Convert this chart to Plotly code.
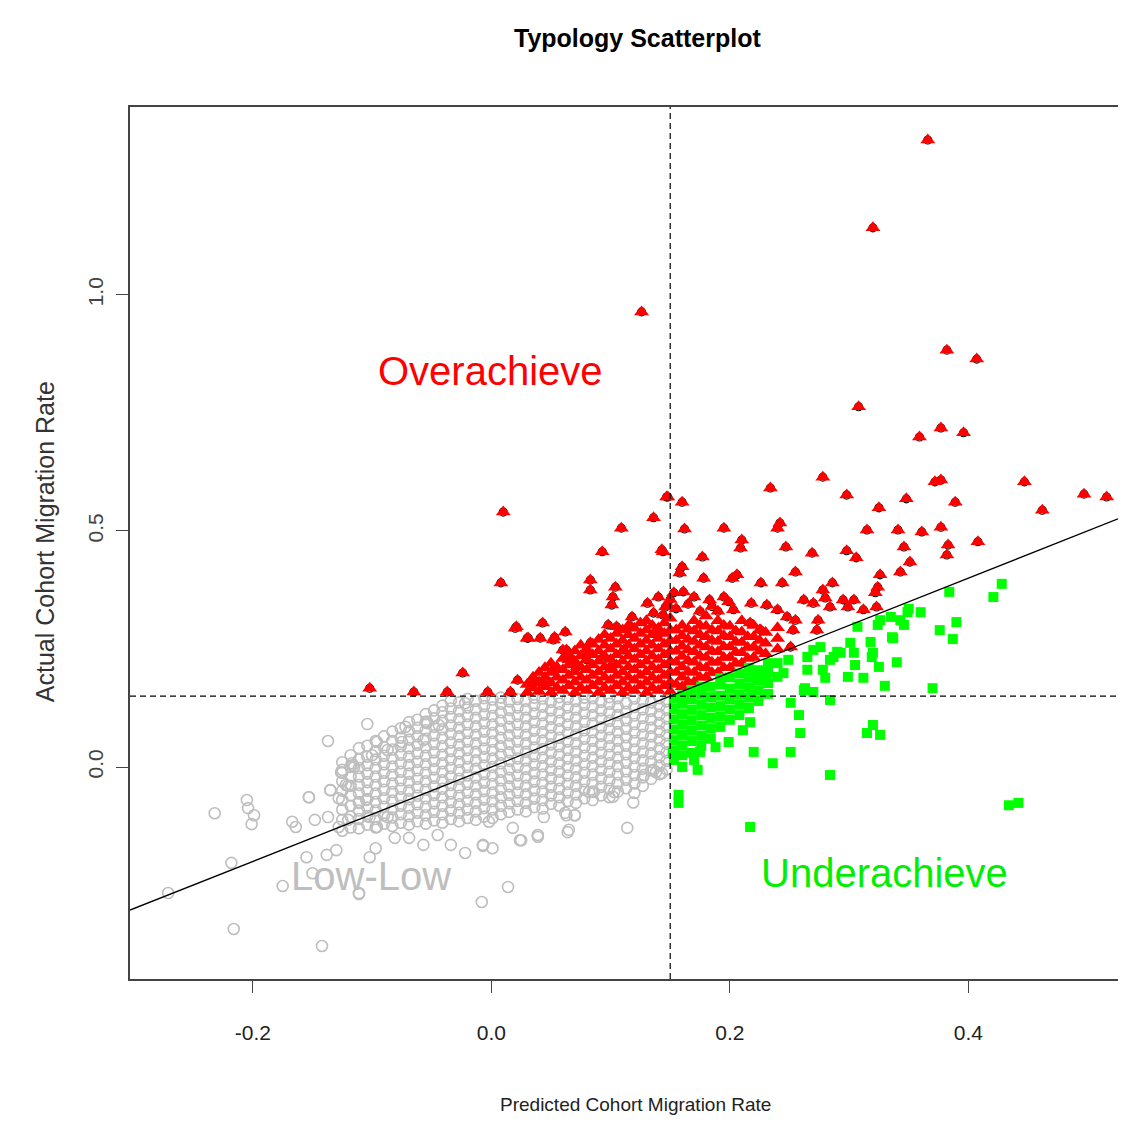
import plotly.graph_objects as go

# ---------------- data ----------------
X_RANGE = [-0.303, 0.5255]
Y_RANGE = [-0.449, 1.398]
X_TICKS = [-0.2, 0.0, 0.2, 0.4]
X_TICKTEXT = ["-0.2", "0.0", "0.2", "0.4"]
Y_TICKS = [0.0, 0.5, 1.0]
Y_TICKTEXT = ["0.0", "0.5", "1.0"]
THRESH_X = 0.15
THRESH_Y = 0.15
LINE_INTERCEPT = 0.0
LINE_SLOPE = 1.0

# Low-Low (grey) dense band: columns of (predicted, [actual values])
GREY_BAND = [
    (-0.125, [-0.135, -0.112, -0.09, -0.07, -0.05, -0.03, -0.012, 0.01]),
    (-0.118, [-0.128, -0.105, -0.082, -0.06, -0.04, -0.02, 0.0, 0.025]),
    (-0.111, [-0.13, -0.11, -0.092, -0.074, -0.056, -0.038, -0.02, -0.002, 0.016, 0.04]),
    (-0.104, [-0.122, -0.104, -0.086, -0.068, -0.05, -0.032, -0.014, 0.004, 0.022, 0.045]),
    (-0.097, [-0.128, -0.11, -0.092, -0.074, -0.056, -0.038, -0.02, -0.002, 0.016, 0.034, 0.055]),
    (-0.090, [-0.12, -0.102, -0.084, -0.066, -0.048, -0.03, -0.012, 0.006, 0.024, 0.042, 0.065]),
    (-0.083, [-0.125, -0.107, -0.089, -0.071, -0.053, -0.035, -0.017, 0.001, 0.019, 0.037, 0.055, 0.075]),
    (-0.076, [-0.118, -0.1, -0.082, -0.064, -0.046, -0.028, -0.01, 0.008, 0.026, 0.044, 0.062, 0.082]),
    (-0.069, [-0.122, -0.104, -0.086, -0.068, -0.05, -0.032, -0.014, 0.004, 0.022, 0.04, 0.058, 0.076, 0.095]),
    (-0.062, [-0.115, -0.097, -0.079, -0.061, -0.043, -0.025, -0.007, 0.011, 0.029, 0.047, 0.065, 0.083, 0.1]),
    (-0.055, [-0.12, -0.102, -0.084, -0.066, -0.048, -0.03, -0.012, 0.006, 0.024, 0.042, 0.06, 0.078, 0.096, 0.112]),
    (-0.048, [-0.113, -0.095, -0.077, -0.059, -0.041, -0.023, -0.005, 0.013, 0.031, 0.049, 0.067, 0.085, 0.103, 0.12]),
    (-0.041, [-0.118, -0.1, -0.082, -0.064, -0.046, -0.028, -0.01, 0.008, 0.026, 0.044, 0.062, 0.08, 0.098, 0.116, 0.13]),
    (-0.034, [-0.11, -0.092, -0.074, -0.056, -0.038, -0.02, -0.002, 0.016, 0.034, 0.052, 0.07, 0.088, 0.106, 0.124, 0.14]),
    (-0.027, [-0.115, -0.097, -0.079, -0.061, -0.043, -0.025, -0.007, 0.011, 0.029, 0.047, 0.065, 0.083, 0.101, 0.119, 0.137]),
    (-0.020, [-0.108, -0.09, -0.072, -0.054, -0.036, -0.018, 0.0, 0.018, 0.036, 0.054, 0.072, 0.09, 0.108, 0.126, 0.144]),
    (-0.013, [-0.112, -0.094, -0.076, -0.058, -0.04, -0.022, -0.004, 0.014, 0.032, 0.05, 0.068, 0.086, 0.104, 0.122, 0.14]),
    (-0.006, [-0.105, -0.087, -0.069, -0.051, -0.033, -0.015, 0.003, 0.021, 0.039, 0.057, 0.075, 0.093, 0.111, 0.129, 0.146]),
    (0.001, [-0.108, -0.09, -0.072, -0.054, -0.036, -0.018, 0.0, 0.018, 0.036, 0.054, 0.072, 0.09, 0.108, 0.126, 0.143]),
    (0.008, [-0.1, -0.082, -0.064, -0.046, -0.028, -0.01, 0.008, 0.026, 0.044, 0.062, 0.08, 0.098, 0.116, 0.134, 0.147]),
    (0.015, [-0.095, -0.077, -0.059, -0.041, -0.023, -0.005, 0.013, 0.031, 0.049, 0.067, 0.085, 0.103, 0.121, 0.139]),
    (0.022, [-0.09, -0.072, -0.054, -0.036, -0.018, 0.0, 0.018, 0.036, 0.054, 0.072, 0.09, 0.108, 0.126, 0.144]),
    (0.029, [-0.094, -0.076, -0.058, -0.04, -0.022, -0.004, 0.014, 0.032, 0.05, 0.068, 0.086, 0.104, 0.122, 0.14]),
    (0.036, [-0.085, -0.067, -0.049, -0.031, -0.013, 0.005, 0.023, 0.041, 0.059, 0.077, 0.095, 0.113, 0.131, 0.147]),
    (0.043, [-0.088, -0.07, -0.052, -0.034, -0.016, 0.002, 0.02, 0.038, 0.056, 0.074, 0.092, 0.11, 0.128, 0.145]),
    (0.050, [-0.078, -0.06, -0.042, -0.024, -0.006, 0.012, 0.03, 0.048, 0.066, 0.084, 0.102, 0.12, 0.138]),
    (0.057, [-0.082, -0.064, -0.046, -0.028, -0.01, 0.008, 0.026, 0.044, 0.062, 0.08, 0.098, 0.116, 0.134, 0.148]),
    (0.064, [-0.072, -0.054, -0.036, -0.018, 0.0, 0.018, 0.036, 0.054, 0.072, 0.09, 0.108, 0.126, 0.144]),
    (0.071, [-0.076, -0.058, -0.04, -0.022, -0.004, 0.014, 0.032, 0.05, 0.068, 0.086, 0.104, 0.122, 0.14]),
    (0.078, [-0.066, -0.048, -0.03, -0.012, 0.006, 0.024, 0.042, 0.06, 0.078, 0.096, 0.114, 0.132, 0.147]),
    (0.085, [-0.07, -0.052, -0.034, -0.016, 0.002, 0.02, 0.038, 0.056, 0.074, 0.092, 0.11, 0.128, 0.146]),
    (0.092, [-0.06, -0.042, -0.024, -0.006, 0.012, 0.03, 0.048, 0.066, 0.084, 0.102, 0.12, 0.138]),
    (0.099, [-0.064, -0.046, -0.028, -0.01, 0.008, 0.026, 0.044, 0.062, 0.08, 0.098, 0.116, 0.134, 0.148]),
    (0.106, [-0.052, -0.034, -0.016, 0.002, 0.02, 0.038, 0.056, 0.074, 0.092, 0.11, 0.128, 0.146]),
    (0.113, [-0.045, -0.027, -0.009, 0.009, 0.027, 0.045, 0.063, 0.081, 0.099, 0.117, 0.135]),
    (0.120, [-0.035, -0.017, 0.001, 0.019, 0.037, 0.055, 0.073, 0.091, 0.109, 0.127, 0.145]),
    (0.127, [-0.04, -0.022, -0.004, 0.014, 0.032, 0.05, 0.068, 0.086, 0.104, 0.122, 0.14]),
    (0.134, [-0.025, -0.007, 0.011, 0.029, 0.047, 0.065, 0.083, 0.101, 0.119, 0.137]),
    (0.141, [-0.015, 0.003, 0.021, 0.039, 0.057, 0.075, 0.093, 0.111, 0.129, 0.146]),
    (0.147, [-0.005, 0.013, 0.031, 0.049, 0.067, 0.085, 0.103, 0.121, 0.139]),
]
# Low-Low scattered points
GREY_X = [-0.232, -0.205, -0.204, -0.199, -0.201, -0.271, -0.218, -0.216, -0.142, -0.175,
          -0.167, -0.164, -0.148, -0.153, -0.155, -0.138, -0.130, -0.150, -0.111, -0.126,
          -0.116, -0.122, -0.135, -0.137, -0.128, -0.120, -0.102, -0.097, -0.008, 0.014,
          0.114, 0.065, 0.039, 0.025, 0.001, -0.007, -0.022, -0.034, -0.057, -0.045,
          0.018, 0.044, 0.070, 0.063, 0.082, 0.103, 0.120, 0.138, 0.143, -0.002,
          -0.069, -0.081, -0.096, -0.087, -0.102, -0.111, -0.105, -0.137, -0.104, -0.072,
          -0.096, -0.075, -0.125, -0.117, -0.115, -0.120, -0.135, -0.153, -0.128, -0.100,
          -0.087, -0.054, -0.057, -0.111, -0.054, -0.044, -0.022, -0.007, 0.024, 0.039,
          0.064, 0.062, 0.070, 0.086, 0.102, 0.119, 0.128, 0.136]
GREY_Y = [-0.098, -0.070, -0.087, -0.102, -0.121, -0.267, -0.203, -0.343, -0.379, -0.252,
          -0.116, -0.127, -0.112, -0.064, -0.191, -0.186, -0.176, -0.225, -0.269, -0.011,
          0.004, -0.038, -0.049, -0.106, -0.127, -0.112, -0.191, -0.172, -0.286, -0.254,
          -0.129, -0.133, -0.148, -0.155, -0.172, -0.167, -0.182, -0.165, -0.165, -0.144,
          -0.129, -0.106, -0.102, -0.102, -0.053, -0.053, -0.055, -0.011, -0.013, -0.116,
          -0.150, -0.150, -0.127, -0.106, -0.106, -0.076, -0.070, 0.055, 0.091, 0.085,
          0.053, 0.053, -0.006, 0.008, 0.000, -0.040, -0.049, -0.064, -0.066, 0.025,
          0.036, 0.093, 0.057, -0.267, 0.096, 0.089, 0.135, -0.165, -0.155, -0.144,
          -0.138, -0.097, -0.102, -0.053, -0.063, -0.075, -0.017, -0.006]

# Overachieve (red) dense cluster columns
RED_BAND = [
    (0.030, [0.158, 0.175]),
    (0.035, [0.168, 0.190]),
    (0.040, [0.160, 0.180, 0.200]),
    (0.045, [0.170, 0.190, 0.210]),
    (0.050, [0.158, 0.178, 0.200, 0.220]),
    (0.055, [0.168, 0.190, 0.212]),
    (0.060, [0.162, 0.184, 0.206, 0.230]),
    (0.065, [0.172, 0.194, 0.216, 0.238]),
    (0.070, [0.158, 0.180, 0.202, 0.224, 0.246]),
    (0.075, [0.168, 0.190, 0.212, 0.235, 0.258]),
    (0.080, [0.162, 0.184, 0.206, 0.228, 0.250]),
    (0.085, [0.172, 0.194, 0.216, 0.238, 0.260]),
    (0.090, [0.158, 0.180, 0.202, 0.224, 0.246, 0.270]),
    (0.095, [0.168, 0.190, 0.212, 0.235, 0.258, 0.280]),
    (0.100, [0.162, 0.184, 0.206, 0.228, 0.250, 0.272]),
    (0.105, [0.172, 0.194, 0.216, 0.238, 0.260, 0.283]),
    (0.110, [0.158, 0.180, 0.202, 0.224, 0.246, 0.268, 0.290]),
    (0.115, [0.168, 0.190, 0.212, 0.235, 0.258, 0.280, 0.300]),
    (0.120, [0.162, 0.184, 0.206, 0.228, 0.250, 0.272, 0.294]),
    (0.125, [0.172, 0.194, 0.216, 0.238, 0.260, 0.283, 0.305]),
    (0.130, [0.158, 0.180, 0.202, 0.224, 0.246, 0.268, 0.290, 0.310]),
    (0.135, [0.168, 0.190, 0.212, 0.235, 0.258, 0.280, 0.300]),
    (0.140, [0.162, 0.184, 0.206, 0.228, 0.250, 0.272, 0.294]),
    (0.145, [0.172, 0.194, 0.216, 0.238, 0.260, 0.283, 0.305]),
    (0.150, [0.160, 0.180, 0.202, 0.224, 0.246, 0.268, 0.290, 0.315]),
    (0.155, [0.175, 0.200, 0.222, 0.245, 0.268, 0.290]),
    (0.160, [0.170, 0.190, 0.212, 0.234, 0.256, 0.278, 0.300]),
    (0.165, [0.180, 0.202, 0.225, 0.248, 0.270, 0.292]),
    (0.170, [0.180, 0.200, 0.222, 0.244, 0.266, 0.288, 0.310]),
    (0.175, [0.190, 0.212, 0.235, 0.258, 0.280, 0.300]),
    (0.180, [0.190, 0.210, 0.232, 0.254, 0.276, 0.298, 0.320]),
    (0.185, [0.200, 0.222, 0.245, 0.268, 0.290]),
    (0.190, [0.200, 0.222, 0.244, 0.266, 0.288, 0.310]),
    (0.195, [0.210, 0.232, 0.255, 0.278, 0.300]),
    (0.200, [0.210, 0.232, 0.254, 0.276, 0.298]),
    (0.205, [0.220, 0.243, 0.265, 0.288]),
    (0.210, [0.220, 0.242, 0.264, 0.286, 0.310]),
    (0.215, [0.230, 0.253, 0.276]),
    (0.220, [0.232, 0.254, 0.276, 0.300]),
    (0.225, [0.245, 0.268, 0.290]),
    (0.230, [0.240, 0.262, 0.285]),
    (0.240, [0.250, 0.272, 0.295]),
]
RED_X = [0.366, 0.320, 0.126, 0.382, 0.407, 0.308, 0.359, 0.377, 0.396, 0.278,
         0.234, 0.372, 0.377, 0.447, 0.497, 0.516, 0.462, 0.148, 0.160, 0.298,
         0.348, 0.389, 0.325, 0.162, 0.195, 0.242, 0.240, 0.315, 0.341, 0.361,
         0.377, 0.408, 0.383, 0.382, 0.346, 0.351, 0.343, 0.210, 0.209, 0.247,
         0.269, 0.298, 0.306, 0.177, 0.144, 0.160, 0.158, 0.178, 0.202, 0.206,
         0.255, 0.226, 0.244, 0.286, 0.278, 0.326, 0.324, 0.322, 0.153, 0.161,
         0.183, 0.195, 0.199, 0.218, 0.231, 0.262, 0.270, 0.280, 0.284, 0.295,
         0.304, 0.299, 0.312, 0.323, 0.146, 0.240, 0.248, 0.255, 0.253, 0.274,
         0.273, 0.203, 0.217, 0.226, 0.251,
         0.010, 0.008, 0.109, 0.136, 0.147, 0.143, 0.093, 0.083, 0.083, 0.104,
         0.102, 0.101, 0.021, 0.043, 0.041, 0.031, 0.053, 0.062, 0.063, 0.065,
         0.098, 0.105, 0.118, 0.117, 0.131, 0.136, 0.144, 0.148, 0.141, 0.083,
         0.080, -0.102, -0.065, -0.037, -0.024, -0.003, 0.016, 0.022, 0.020, 0.030,
         0.052, 0.060, 0.081, 0.111, 0.094, 0.100, 0.072, 0.052, 0.044, 0.035,
         0.155, 0.165, 0.175, 0.185, 0.170, 0.190, 0.150, 0.140]
RED_Y = [1.328, 1.142, 0.964, 0.883, 0.864, 0.763, 0.699, 0.718, 0.708, 0.614,
         0.591, 0.604, 0.608, 0.604, 0.578, 0.572, 0.544, 0.572, 0.561, 0.576,
         0.568, 0.561, 0.549, 0.504, 0.506, 0.517, 0.506, 0.502, 0.502, 0.498,
         0.508, 0.477, 0.470, 0.449, 0.466, 0.434, 0.413, 0.481, 0.464, 0.466,
         0.453, 0.458, 0.443, 0.445, 0.456, 0.424, 0.411, 0.400, 0.400, 0.407,
         0.413, 0.390, 0.390, 0.390, 0.375, 0.407, 0.381, 0.369, 0.369, 0.371,
         0.354, 0.360, 0.350, 0.347, 0.343, 0.354, 0.347, 0.358, 0.339, 0.354,
         0.354, 0.339, 0.333, 0.339, 0.339, 0.333, 0.318, 0.311, 0.290, 0.311,
         0.290, 0.333, 0.305, 0.290, 0.254,
         0.540, 0.390, 0.506, 0.528, 0.572, 0.460, 0.456, 0.396, 0.375, 0.381,
         0.360, 0.343, 0.297, 0.305, 0.273, 0.273, 0.275, 0.286, 0.248, 0.227,
         0.301, 0.297, 0.318, 0.297, 0.347, 0.326, 0.322, 0.343, 0.284, 0.263,
         0.227, 0.167, 0.159, 0.159, 0.199, 0.159, 0.159, 0.184, 0.294, 0.273,
         0.269, 0.248, 0.242, 0.248, 0.233, 0.212, 0.212, 0.206, 0.178, 0.178,
         0.335, 0.345, 0.330, 0.340, 0.360, 0.330, 0.355, 0.360]

# Underachieve (green) dense cluster columns
GREEN_BAND = [
    (0.153, [0.015, 0.035, 0.057, 0.079, 0.101, 0.123, 0.145]),
    (0.160, [0.000, 0.025, 0.046, 0.068, 0.090, 0.112, 0.134, 0.152]),
    (0.168, [0.030, 0.055, 0.077, 0.099, 0.121, 0.143, 0.162]),
    (0.176, [0.045, 0.066, 0.088, 0.110, 0.132, 0.154, 0.170]),
    (0.184, [0.060, 0.082, 0.104, 0.126, 0.148, 0.170]),
    (0.192, [0.085, 0.107, 0.129, 0.151, 0.175, 0.188]),
    (0.200, [0.100, 0.122, 0.144, 0.166, 0.190]),
    (0.208, [0.110, 0.132, 0.154, 0.176, 0.198]),
    (0.216, [0.125, 0.147, 0.169, 0.190, 0.210]),
    (0.224, [0.140, 0.162, 0.184, 0.205]),
    (0.232, [0.155, 0.178, 0.200, 0.220]),
]
GREEN_X = [0.428, 0.421, 0.384, 0.390, 0.376, 0.387, 0.360, 0.350, 0.346, 0.337,
           0.340, 0.326, 0.324, 0.318, 0.319, 0.325, 0.330, 0.370, 0.307, 0.301,
           0.305, 0.299, 0.312, 0.290, 0.284, 0.278, 0.280, 0.270, 0.265, 0.265,
           0.263, 0.270, 0.284, 0.251, 0.258, 0.259, 0.251, 0.236, 0.284, 0.220,
           0.315, 0.320, 0.326, 0.434, 0.442, 0.217, 0.157, 0.157, 0.249, 0.245,
           0.240, 0.230, 0.223, 0.217, 0.211, 0.217, 0.199, 0.188, 0.173, 0.170,
           0.175, 0.152, 0.349, 0.343, 0.335, 0.336, 0.304, 0.320, 0.276, 0.287,
           0.293, 0.240, 0.262]
GREEN_Y = [0.388, 0.360, 0.371, 0.307, 0.290, 0.271, 0.328, 0.335, 0.301, 0.273,
           0.222, 0.311, 0.301, 0.265, 0.233, 0.212, 0.172, 0.167, 0.297, 0.263,
           0.216, 0.191, 0.189, 0.244, 0.227, 0.206, 0.189, 0.248, 0.233, 0.206,
           0.167, 0.159, 0.142, 0.136, 0.110, 0.072, 0.032, 0.008, -0.017, 0.032,
           0.072, 0.089, 0.068, -0.081, -0.076, -0.127, -0.059, -0.076, 0.227, 0.199,
           0.191, 0.195, 0.184, 0.148, 0.078, 0.095, 0.053, 0.042, -0.006, 0.015,
           0.032, 0.030, 0.328, 0.311, 0.318, 0.275, 0.242, 0.242, 0.254, 0.233,
           0.242, 0.220, 0.163]

LABELS = [("Overachieve", -0.001, 0.839, "#ff0000"),
          ("Underachieve", 0.330, -0.225, "#00ee00"),
          ("Low-Low", -0.101, -0.231, "#bebebe")]


def flatten(band, xs, ys):
    fx = [x for x, col in band for _ in col] + list(xs)
    fy = [y for _, col in band for y in col] + list(ys)
    return fx, fy


grey_x, grey_y = flatten(GREY_BAND, GREY_X, GREY_Y)
red_x, red_y = flatten(RED_BAND, RED_X, RED_Y)
green_x, green_y = flatten(GREEN_BAND, GREEN_X, GREEN_Y)

FONT = "Liberation Sans, Arial, sans-serif"

fig = go.Figure()
fig.add_trace(go.Scatter(x=grey_x, y=grey_y, mode="markers", hoverinfo="skip",
                         marker=dict(symbol="circle-open", size=11, color="#bebebe",
                                     line=dict(width=1.6))))
# dark rim under the isolated triangles
fig.add_trace(go.Scatter(x=RED_X, y=RED_Y, mode="markers", hoverinfo="skip",
                         marker=dict(symbol="circle-open", size=8, color="#000000",
                                     line=dict(width=1.1))))
fig.add_trace(go.Scatter(x=red_x, y=red_y, mode="markers", hoverinfo="skip",
                         marker=dict(symbol="triangle-up", size=13, color="#ff0000",
                                     line=dict(width=0))))
fig.add_trace(go.Scatter(x=green_x, y=green_y, mode="markers", hoverinfo="skip",
                         marker=dict(symbol="square", size=10, color="#00ff00",
                                     line=dict(width=0))))

# reference line y = intercept + slope * x across the plotted range
fig.add_shape(type="line", xref="x", yref="y",
              x0=X_RANGE[0], x1=X_RANGE[1],
              y0=LINE_INTERCEPT + LINE_SLOPE * X_RANGE[0],
              y1=LINE_INTERCEPT + LINE_SLOPE * X_RANGE[1],
              line=dict(color="black", width=1.3), layer="above")
fig.add_shape(type="line", xref="x", yref="paper", x0=THRESH_X, x1=THRESH_X, y0=0, y1=1,
              line=dict(color="black", width=1.2, dash="6px,4px"), layer="above")
fig.add_shape(type="line", xref="paper", yref="y", x0=0, x1=1, y0=THRESH_Y, y1=THRESH_Y,
              line=dict(color="black", width=1.2, dash="6px,4px"), layer="above")

for text, lx, ly, col in LABELS:
    fig.add_annotation(x=lx, y=ly, xref="x", yref="y", text=text, showarrow=False,
                       xanchor="center", yanchor="middle",
                       font=dict(family=FONT, size=40, color=col))

fig.add_annotation(x=0.514, y=1.079, xref="paper", yref="paper", showarrow=False,
                   xanchor="center", yanchor="middle",
                   text="<b>Typology Scatterplot</b>",
                   font=dict(family=FONT, size=25, color="#000000"))
fig.add_annotation(x=0.512, y=-0.1436, xref="paper", yref="paper", showarrow=False,
                   xanchor="center", yanchor="middle",
                   text="Predicted Cohort Migration Rate",
                   font=dict(family=FONT, size=19, color="#222222"))
fig.add_annotation(x=-0.086, y=0.501, xref="paper", yref="paper", showarrow=False,
                   xanchor="center", yanchor="middle",
                   text="Actual Cohort Migration Rate", textangle=-90,
                   font=dict(family=FONT, size=25, color="#333333"))

# page body has an 8px margin: the figure is sized to sit inside the window
fig.update_layout(
    width=1110, height=1107,
    margin=dict(l=122, r=0, t=99, b=136),
    paper_bgcolor="white", plot_bgcolor="white",
    showlegend=False,
    font=dict(family=FONT),
    xaxis=dict(range=X_RANGE, tickvals=X_TICKS, ticktext=X_TICKTEXT,
               ticks="outside", ticklen=12, tickwidth=1.2, tickcolor="#444444",
               showline=True, linecolor="#444444", linewidth=1.5, mirror=True,
               showgrid=False, zeroline=False, ticklabelstandoff=22,
               tickfont=dict(family=FONT, size=21, color="#222222")),
    yaxis=dict(range=Y_RANGE, tickvals=Y_TICKS, ticktext=Y_TICKTEXT,
               ticks="outside", ticklen=12, tickwidth=1.2, tickcolor="#444444",
               showline=True, linecolor="#444444", linewidth=1.5, mirror=False,
               showgrid=False, zeroline=False, tickangle=-90, ticklabelstandoff=5,
               tickfont=dict(family=FONT, size=21, color="#444444")),
)

fig.write_html("out.html")
